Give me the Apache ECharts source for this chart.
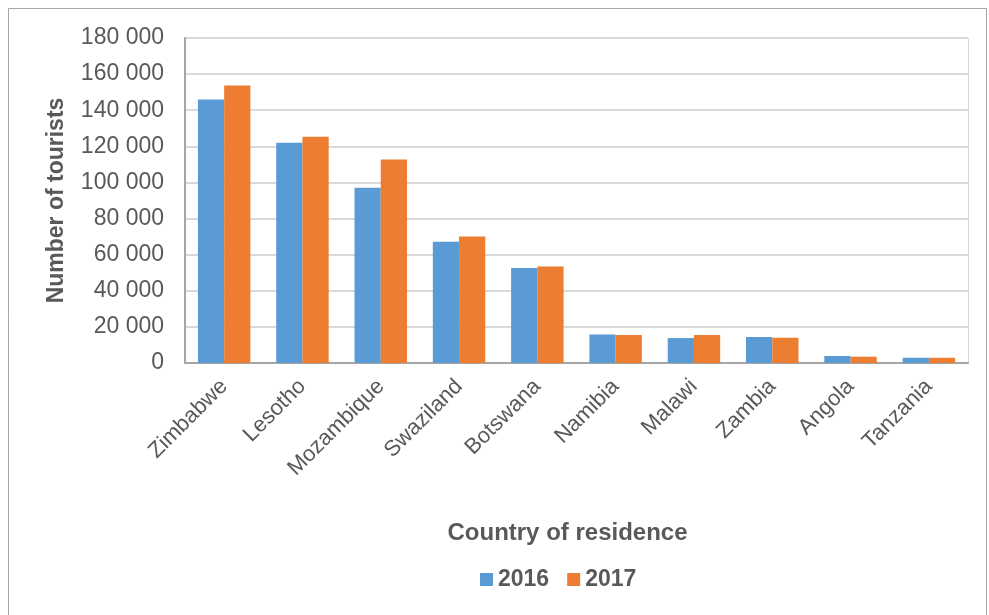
<!DOCTYPE html>
<html><head><meta charset="utf-8">
<script src="https://cdn.jsdelivr.net/npm/echarts@6/dist/echarts.min.js"></script>
<style>html,body{margin:0;padding:0;background:#fff}#c{width:989px;height:615px}</style>
</head><body><div id="c"></div>
<script>
const categories = ["Zimbabwe","Lesotho","Mozambique","Swaziland","Botswana","Namibia","Malawi","Zambia","Angola","Tanzania"];
const values2016 = [146000,122000,97100,67200,52600,15800,13800,14400,3900,2900];
const values2017 = [153700,125300,112700,70100,53500,15500,15500,14000,3500,2900];
const seriesNames = ["2016","2017"];

const fmt = v => String(v).replace(/\B(?=(\d{3})+(?!\d))/g, ' ');
const chart = echarts.init(document.getElementById('c'));
const font = "Liberation Sans, Arial, sans-serif";
chart.setOption({
  animation:false,
  graphic:[{type:'rect',shape:{x:8.5,y:8.5,width:978,height:620},style:{fill:'none',stroke:'#a6a6a6',lineWidth:1}},
           {type:'rect',shape:{x:185,y:38.5,width:783.5,height:325},style:{fill:'none',stroke:'#d9d9d9',lineWidth:1}}],
  grid:{left:185,right:21,top:38,bottom:252,containLabel:false},
  legend:{top:563,left:475,itemWidth:13,itemHeight:13,itemGap:18,icon:'rect',
    textStyle:{fontFamily:font,fontSize:23,fontWeight:'bold',color:'#595959'},data:seriesNames},
  xAxis:{type:'category',data:categories,
    name:'Country of residence',nameLocation:'middle',nameGap:158,
    nameTextStyle:{fontFamily:font,fontSize:24,fontWeight:'bold',color:'#595959',padding:[0,18,0,0]},
    axisLine:{lineStyle:{color:'#a6a6a6',width:2}},axisTick:{show:false},
    axisLabel:{rotate:45,fontFamily:font,fontSize:22,color:'#595959',margin:20,interval:0}},
  yAxis:{type:'value',min:0,max:180000,interval:20000,
    name:'Number of tourists',nameLocation:'middle',nameGap:117,
    nameTextStyle:{fontFamily:font,fontSize:23,fontWeight:'bold',color:'#595959'},
    axisLine:{show:true,lineStyle:{color:'#a6a6a6',width:2}},axisTick:{show:false},
    splitLine:{lineStyle:{color:'#d9d9d9',width:2}},
    axisLabel:{fontFamily:font,fontSize:23,color:'#595959',margin:21,formatter:fmt}},
  series:[
    {name:seriesNames[0],type:'bar',data:values2016,barGap:'0%',barCategoryGap:'33%',itemStyle:{color:'#5B9BD5'}},
    {name:seriesNames[1],type:'bar',data:values2017,barGap:'0%',barCategoryGap:'33%',itemStyle:{color:'#ED7D31'}}
  ]
});
</script></body></html>
